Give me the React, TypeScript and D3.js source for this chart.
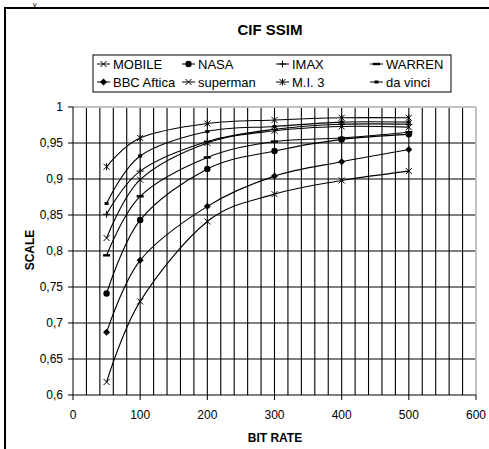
import React from "react";
import * as d3 from "d3";

const bitRates = [50, 100, 200, 300, 400, 500];
const seriesNames = ["MOBILE", "NASA", "IMAX", "WARREN", "BBC Aftica", "superman", "M.I. 3", "da vinci"];
const mobile = [0.618, 0.730, 0.841, 0.879, 0.898, 0.911];
const nasa = [0.741, 0.843, 0.914, 0.939, 0.955, 0.962];
const imax = [0.851, 0.911, 0.952, 0.969, 0.976, 0.976];
const warren = [0.794, 0.876, 0.930, 0.952, 0.957, 0.965];
const bbc = [0.687, 0.787, 0.862, 0.904, 0.924, 0.941];
const superman = [0.818, 0.899, 0.950, 0.967, 0.973, 0.972];
const mi3 = [0.917, 0.957, 0.977, 0.982, 0.985, 0.985];
const daVinci = [0.866, 0.932, 0.966, 0.973, 0.979, 0.979];
const markerTypes = ["x", "circle", "plus", "dash", "diamond", "x", "star", "smalldash"];
const xTicks = [0, 100, 200, 300, 400, 500, 600];
const yTicks = [0.6, 0.65, 0.7, 0.75, 0.8, 0.85, 0.9, 0.95, 1];

const allSeries = [mobile, nasa, imax, warren, bbc, superman, mi3, daVinci];

const FONT = "'Liberation Sans', Arial, sans-serif";

function Marker({ type, x, y }: { type: string; x: number; y: number }) {
  const s = 3;
  switch (type) {
    case "x":
      return <path d={`M${x - s},${y - s}L${x + s},${y + s}M${x - s},${y + s}L${x + s},${y - s}`} stroke="#000" strokeWidth={1} fill="none" />;
    case "star":
      return <path d={`M${x - s},${y - s}L${x + s},${y + s}M${x - s},${y + s}L${x + s},${y - s}M${x},${y - s - 0.5}L${x},${y + s + 0.5}`} stroke="#000" strokeWidth={1} fill="none" />;
    case "plus":
      return <path d={`M${x - 3.5},${y}L${x + 3.5},${y}M${x},${y - 3.5}L${x},${y + 3.5}`} stroke="#000" strokeWidth={1} fill="none" />;
    case "circle":
      return <circle cx={x} cy={y} r={3.2} fill="#000" />;
    case "diamond":
      return <path d={`M${x},${y - 3.5}L${x + 3.5},${y}L${x},${y + 3.5}L${x - 3.5},${y}Z`} fill="#000" />;
    case "dash":
      return <rect x={x - 3.5} y={y - 1.2} width={7} height={2.4} fill="#000" />;
    case "smalldash":
      return <rect x={x - 2} y={y - 1.5} width={4} height={3} fill="#000" />;
    default:
      return null;
  }
}

export default function App() {
  const W = 489;
  const H = 449;
  const x = d3.scaleLinear().domain([0, 600]).range([73, 476]);
  const y = d3.scaleLinear().domain([0.6, 1]).range([395, 107]);
  const line = d3
    .line<number>()
    .x((_, i) => x(bitRates[i]))
    .y((d) => y(d))
    .curve(d3.curveCardinal.tension(0));

  const vGrid = d3.range(20, 600, 20);

  const legendCols = [97, 182, 276, 370];
  const legendRows = [64, 82];

  return (
    <svg width={W} height={H} style={{ display: "block", position: "absolute", left: 0, top: 0 }} fontFamily={FONT}>
      <rect x={0} y={0} width={W} height={H} fill="#fff" />
      <text x={33} y={7} fontSize={7} fontFamily={FONT}>y</text>
      <rect x={5} y={8} width={W + 10} height={H + 10} fill="none" stroke="#000" strokeWidth={2} />
      <text x={270} y={35} textAnchor="middle" fontSize={15} fontWeight="bold">CIF SSIM</text>

      {/* grid */}
      {vGrid.map((v) => (
        <line key={"vg" + v} x1={x(v)} x2={x(v)} y1={y(1)} y2={y(0.6)} stroke="#000" strokeWidth={1.1} />
      ))}
      {yTicks.slice(1, -1).map((v) => (
        <line key={"hg" + v} x1={x(0)} x2={x(600)} y1={y(v)} y2={y(v)} stroke="#000" strokeWidth={1} />
      ))}
      {/* plot border top/right */}
      <line x1={x(0)} x2={x(600)} y1={y(1)} y2={y(1)} stroke="#c0c0c0" strokeWidth={2} />
      <line x1={x(600)} x2={x(600)} y1={y(1)} y2={y(0.6)} stroke="#c0c0c0" strokeWidth={2} />

      {/* axes */}
      <line x1={x(0)} x2={x(0)} y1={y(1)} y2={y(0.6)} stroke="#000" strokeWidth={1} />
      <line x1={x(0)} x2={x(600)} y1={y(0.6)} y2={y(0.6)} stroke="#000" strokeWidth={1} />
      {yTicks.map((v) => (
        <g key={"yt" + v}>
          <line x1={x(0) - 5} x2={x(0)} y1={y(v)} y2={y(v)} stroke="#000" />
          <text x={63} y={y(v) + 4} textAnchor="end" fontSize={12}>
            {String(v).replace(".", ",")}
          </text>
        </g>
      ))}
      {xTicks.map((v) => (
        <g key={"xt" + v}>
          <line x1={x(v)} x2={x(v)} y1={y(0.6)} y2={y(0.6) + 5} stroke="#000" />
          <text x={x(v)} y={419} textAnchor="middle" fontSize={12}>
            {v}
          </text>
        </g>
      ))}
      <text x={275} y={442} textAnchor="middle" fontSize={12} fontWeight="bold">BIT RATE</text>
      <text transform={`translate(34,250) rotate(-90)`} textAnchor="middle" fontSize={12} fontWeight="bold">SCALE</text>

      {/* series */}
      {allSeries.map((s, si) => (
        <g key={"s" + si}>
          <path d={line(s) || ""} fill="none" stroke="#000" strokeWidth={1.1} />
          {s.map((v, i) => (
            <Marker key={i} type={markerTypes[si]} x={x(bitRates[i])} y={y(v)} />
          ))}
        </g>
      ))}

      {/* legend */}
      <rect x={93} y={55} width={358} height={37} fill="#fff" stroke="#000" strokeWidth={1} />
      {seriesNames.map((name, i) => {
        const cx = legendCols[i % 4];
        const cy = legendRows[Math.floor(i / 4)];
        return (
          <g key={"lg" + i}>
            <line x1={cx} x2={cx + 13} y1={cy} y2={cy} stroke="#000" />
            <Marker type={markerTypes[i]} x={cx + 6.5} y={cy} />
            <text x={cx + 16} y={cy + 4.5} fontSize={13}>{name}</text>
          </g>
        );
      })}
    </svg>
  );
}
